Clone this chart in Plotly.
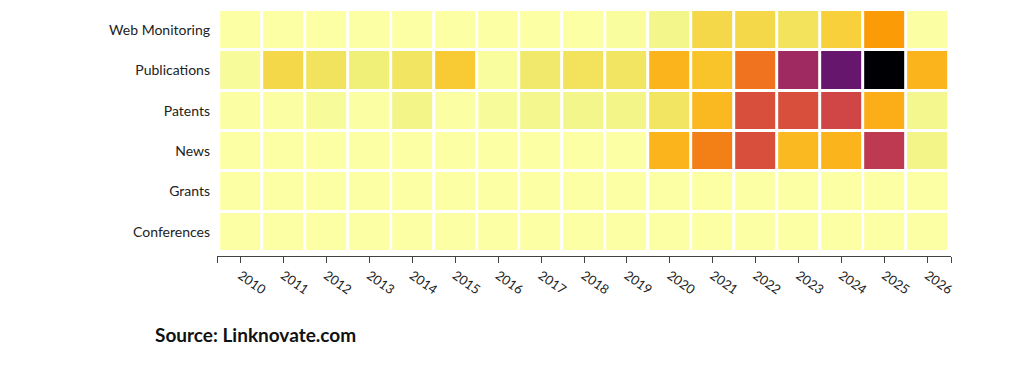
import plotly.graph_objects as go

years = [str(y) for y in range(2010, 2027)]
categories = ["Web Monitoring", "Publications", "Patents", "News", "Grants", "Conferences"]

web_monitoring = [0, 0, 0, 0, 0, 0, 0, 0, 0, 0.8, 3, 9.5, 9.5, 7.5, 11.3, 22, 0.3]
publications   = [1.2, 9.5, 7.3, 5, 7, 12.5, 0.8, 6.2, 7.5, 7.0, 17, 14, 31, 57, 71, 100, 17]
patents        = [0.2, 0.2, 1.2, 0.2, 3.2, 0.2, 1.2, 2.8, 3, 3.2, 7, 16, 41, 41, 44, 18.3, 2.8]
news           = [0, 0, 0, 0, 0, 0, 0, 0, 0, 0, 17, 28.4, 41, 16, 17, 49.2, 3.2]
grants         = [0] * 17
conferences    = [0] * 17

z = [web_monitoring, publications, patents, news, grants, conferences]

# reversed inferno with finer stops in the pale-yellow region
inferno_r = [
    [0.000, "#fcffa4"], [0.030, "#f3f68b"], [0.050, "#f0ef78"],
    [0.075, "#f2e25c"], [0.095, "#f5d84a"], [0.111, "#f7d13d"],
    [0.140, "#f9c32a"], [0.170, "#fbb41c"], [0.190, "#fbab14"],
    [0.222, "#fb9b06"], [0.333, "#ed6925"], [0.444, "#cf4446"],
    [0.556, "#a52c60"], [0.667, "#781c6d"], [0.778, "#4a0c6b"],
    [0.889, "#1b0c41"], [1.000, "#000004"],
]

fig = go.Figure(go.Heatmap(
    z=z, x=years, y=categories,
    colorscale=inferno_r, zmin=0, zmax=100,
    xgap=3, ygap=3, showscale=False,
))

fig.update_layout(
    width=1024, height=391,
    margin=dict(l=217, r=73, t=10, b=135),
    paper_bgcolor="white", plot_bgcolor="white",
    font=dict(family="Lato", size=14, color="#222"),
    xaxis=dict(
        range=[-0.55, 16.55], showgrid=False, zeroline=False,
        showline=True, linecolor="#444", linewidth=1.2,
        ticks="outside", ticklen=6, tickcolor="#444",
        tickvals=[-0.55] + list(range(len(years))) + [16.55],
        ticktext=[""] + years + [""],
        tickangle=35, tickfont=dict(size=13, color="#222"),
    ),
    yaxis=dict(
        range=[5.6, -0.5], showgrid=False, zeroline=False, showline=False,
        ticks="", ticklabelstandoff=6, tickfont=dict(size=14, color="#222"),
    ),
    annotations=[dict(
        text="<b>Source: Linknovate.com</b>", xref="paper", yref="paper",
        x=-0.0872, y=-0.321, xanchor="left", yanchor="middle", showarrow=False,
        font=dict(family="Lato", size=19, color="#111"),
    )],
)

fig.write_html("out.html")
